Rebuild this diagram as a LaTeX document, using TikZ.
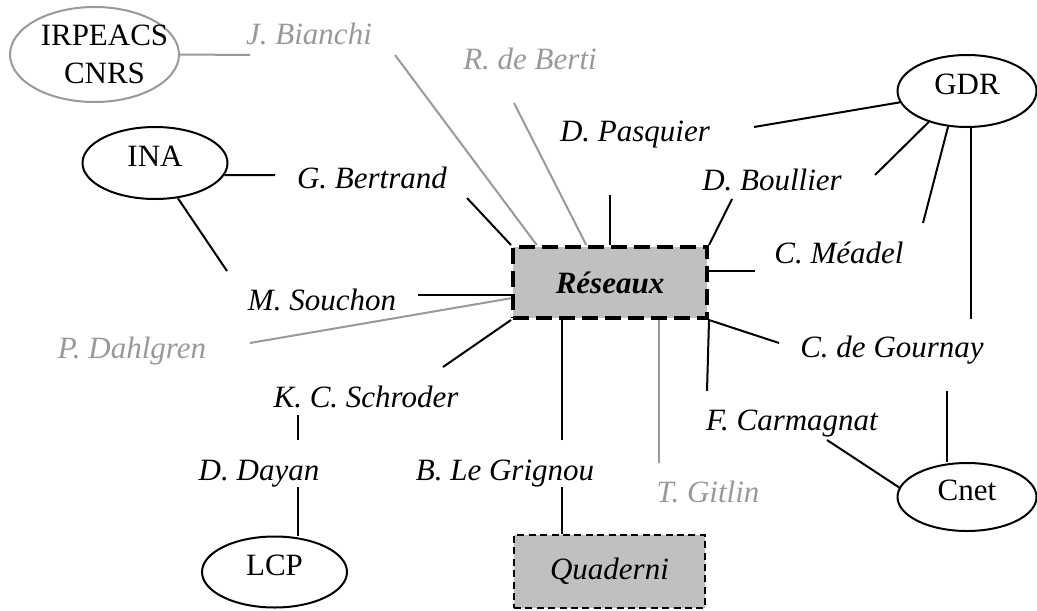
\documentclass[tikz,border=0pt]{standalone}
\usepackage{fontspec}
\setmainfont{Liberation Serif}
\usetikzlibrary{calc,shapes.geometric}
\definecolor{faint}{RGB}{153,153,153}
\definecolor{boxgray}{RGB}{192,192,192}
\tikzset{
  who/.style={anchor=base,inner sep=0pt,font=\fontsize{15.5}{19}\selectfont\itshape},
  whofaint/.style={who,text=faint},
  org/.style={ellipse,draw,line width=1pt,inner sep=0pt,text height=10pt,text depth=6.5pt,
    font=\fontsize{15.5}{19}\selectfont},
  link/.style={line width=1pt},
  faintlink/.style={line width=1pt,draw=faint},
}

\begin{document}
\begin{tikzpicture}[x=0.5pt,y=-0.5pt]
  \useasboundingbox (0,0) rectangle (1037,610);
  % journals
  \node[draw,line width=2pt,dash pattern=on 8pt off 3.5pt,fill=boxgray,minimum width=97pt,minimum height=35.5pt,
    inner sep=0pt,font=\fontsize{15.5}{19}\selectfont\bfseries\itshape] (res) at (610,282.5) {Réseaux};
  \node[draw,line width=1pt,dash pattern=on 3.5pt off 2.2pt,fill=boxgray,minimum width=95.5pt,minimum height=36.5pt,
    inner sep=0pt,font=\fontsize{15.5}{19}\selectfont\itshape] (qua) at (609.5,571.5) {Quaderni};
  % institutions
  \node[org,draw=faint,minimum width=84.5pt,minimum height=47.5pt,
    label={[align=center,xshift=5pt,font=\fontsize{15.5}{19}\selectfont]center:IRPEACS\\CNRS}] (irp) at (94.5,54.5) {};
  \node[org,minimum width=72.5pt,minimum height=36pt] (ina) at (155,163) {INA};
  \node[org,minimum width=69.5pt,minimum height=36pt] (gdr) at (967,91) {GDR};
  \node[org,minimum width=69.5pt,minimum height=34pt] (cnet) at (967,497) {Cnet};
  \node[org,minimum width=72.5pt,minimum height=35.5pt] (lcp) at (274.5,572) {LCP};
  % people
  \node[whofaint] (jb) at (309,45) {J. Bianchi};
  \node[whofaint] (rb) at (530,70) {R. de Berti};
  \node[who] (pq) at (635,141) {D. Pasquier};
  \node[who] (gb) at (372,188) {G. Bertrand};
  \node[who] (bo) at (772,190) {D. Boullier};
  \node[who] (me) at (839,263) {C. Méadel};
  \node[who] (ms) at (322,310) {M. Souchon};
  \node[whofaint] (pd) at (132,358) {P. Dahlgren};
  \node[who] (cg) at (892,357) {C. de Gournay};
  \node[who] (ks) at (366,407) {K. C. Schroder};
  \node[who] (fc) at (792,430) {F. Carmagnat};
  \node[who] (dd) at (259,480) {D. Dayan};
  \node[who] (lg) at (505,480) {B. Le Grignou};
  \node[whofaint] (tg) at (708,502) {T. Gitlin};
  % loose ends next to the names
  \coordinate (jb-w) at (250,55);
  \coordinate (jb-se) at (395,55);
  \coordinate (rb-s) at (514,103);
  \coordinate (pq-s) at (610,195);
  \coordinate (pq-e) at (754,127);
  \coordinate (gb-w) at (275,175);
  \coordinate (gb-se) at (467,198);
  \coordinate (bo-sw) at (732,199);
  \coordinate (bo-ne) at (875,175);
  \coordinate (me-ne) at (923,223);
  \coordinate (me-w) at (755,271);
  \coordinate (cg-n) at (971,319);
  \coordinate (cg-w) at (779,343);
  \coordinate (cg-s) at (947,391);
  \coordinate (fc-n) at (707,391);
  \coordinate (fc-se) at (827,440);
  \coordinate (tg-n) at (659,463);
  \coordinate (lg-n) at (562,440);
  \coordinate (lg-s) at (562,487);
  \coordinate (ks-ne) at (443,367);
  \coordinate (ks-s) at (298,415);
  \coordinate (dd-n) at (298,440);
  \coordinate (dd-s) at (298,487);
  \coordinate (ms-e) at (418,295);
  \coordinate (ms-nw) at (227,271);
  \coordinate (pd-e) at (250,343);
  % grey links
  \draw[faintlink] (irp.east) -- (jb-w);
  \draw[faintlink] (jb-se) -- ($(res.north west)!0.13!(res.north east)$);
  \draw[faintlink] (rb-s) -- ($(res.north west)!0.38!(res.north east)$);
  \draw[faintlink] (pd-e) -- ($(res.north west)!0.71!(res.south west)$);
  \draw[faintlink] (tg-n) -- (tg-n |- res.south);
  % black links
  \draw[link] (pq-s) -- (pq-s |- res.north);
  \draw[link] (gb-se) -- (res.north west);
  \draw[link] (bo-sw) -- (res.north east);
  \draw[link] (me-w) -- (me-w -| res.east);
  \draw[link] (cg-w) -- (res.south east);
  \draw[link] (fc-n) -- (res.south east);
  \draw[link] (lg-n) -- (lg-n |- res.south);
  \draw[link] (ks-ne) -- (res.south west);
  \draw[link] (ms-e) -- (ms-e -| res.west);
  \draw[link] (pq-e) -- (gdr);
  \draw[link] (bo-ne) -- (gdr.219);
  \draw[link] (me-ne) -- (gdr.242);
  \draw[link] (cg-n) -- (cg-n |- gdr.south);
  \draw[link] (cg-s) -- (cg-s |- cnet.north);
  \draw[link] (fc-se) -- (cnet.172);
  \draw[link] (ina.350) -- (gb-w);
  \draw[link] (ina.303) -- (ms-nw);
  \draw[link] (ks-s) -- (dd-n);
  \draw[link] (dd-s) -- (dd-s |- lcp.north);
  \draw[link] (lg-s) -- (lg-s |- qua.north);
\end{tikzpicture}
\end{document}
